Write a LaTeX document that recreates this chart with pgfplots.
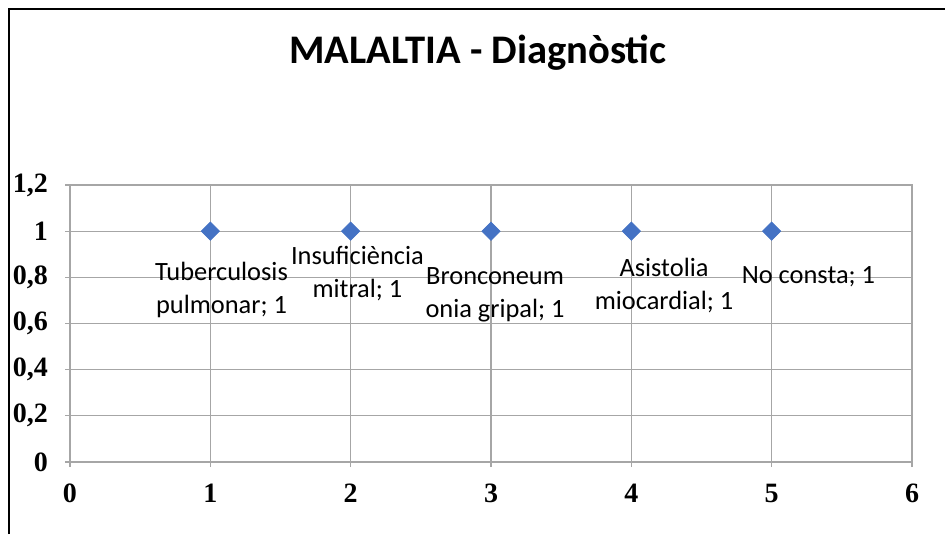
\documentclass[border=0pt]{standalone}
\usepackage{fontspec}
\setmainfont{Carlito}
\newfontfamily\tickfont{Liberation Serif}
\usepackage{pgfplots}
\pgfplotsset{compat=1.18}
\definecolor{markblue}{HTML}{4472C4}
\definecolor{gridgray}{HTML}{A6A6A6}

\begin{document}
\begin{tikzpicture}
\path[use as bounding box] (0,0) rectangle (472.5pt,267pt);
% frame of the chart area (only left and top edges are visible)
\draw[line width=1.2pt] (4.5pt,0) -- (4.5pt,262.5pt) -- (472.5pt,262.5pt);
\node[anchor=base,font=\bfseries\fontsize{20.3}{24}\selectfont] at (239pt,235pt) {MALALTIA - Diagnòstic};

\begin{axis}[
    at={(35pt,36pt)}, anchor=south west,
    scale only axis,
    width=421pt, height=138.5pt,
    xmin=0, xmax=6, ymin=0, ymax=1.2,
    xtick={0,1,2,3,4,5,6},
    ytick={0,0.2,0.4,0.6,0.8,1,1.2},
    tick pos=left,
    tick align=outside,
    major tick length=2.5pt,
    grid=major,
    grid style={gridgray, line width=0.65pt},
    axis line style={gridgray, line width=0.65pt},
    every tick/.style={gridgray, line width=0.65pt},
    /pgf/number format/assume math mode=true,
    /pgf/number format/use comma,
    ticklabel style={font=\tickfont\bfseries\fontsize{14}{16}\selectfont, text=black},
    yticklabel style={xshift=-5pt},
    xticklabel style={yshift=-5pt},
    clip=false,
]
\addplot[only marks, mark=square*, mark size=3.2pt,
    mark options={rotate=45, fill=markblue, draw=markblue}]
    coordinates {(1,1) (2,1) (3,1) (4,1) (5,1)};

\begin{scope}[every node/.style={font=\fontsize{13.2}{16.5}\selectfont, align=center, inner sep=0pt}]
\node at (axis cs:1.080,0.745) {Tuberculosis\\pulmonar; 1};
\node at (axis cs:2.048,0.815) {Insuficiència\\mitral; 1};
\node at (axis cs:3.029,0.724) {Bronconeum\\onia gripal; 1};
\node at (axis cs:4.233,0.763) {Asistolia\\miocardial; 1};
\node at (axis cs:5.262,0.802) {No consta; 1};
\end{scope}
\end{axis}
\end{tikzpicture}
\end{document}
